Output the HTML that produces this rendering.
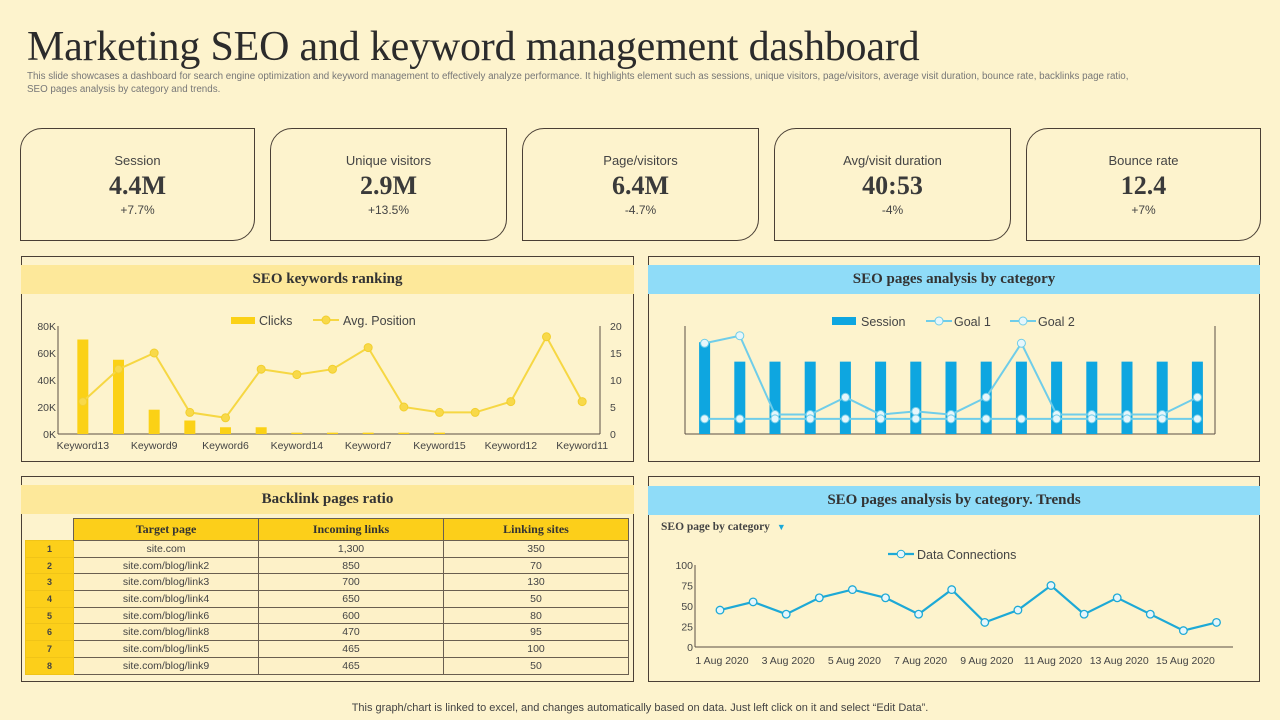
<!DOCTYPE html>
<html><head><meta charset="utf-8">
<style>
*{margin:0;padding:0;box-sizing:border-box}
body{width:1280px;height:720px;background:#fdf3cd;font-family:"Liberation Sans",sans-serif;color:#333;position:relative;overflow:hidden}
.abs{position:absolute}
h1{position:absolute;left:27px;top:23px;font-family:"Liberation Serif",serif;font-weight:normal;font-size:42px;color:#2b2b2b;letter-spacing:-0.2px}
.sub{left:27px;top:70px;font-size:9.8px;color:#777;line-height:13px;width:1240px;white-space:nowrap}
.card{position:absolute;top:128px;height:113px;border:1px solid #4a3f35;border-radius:22px 0 22px 0;text-align:center}
.card .l{margin-top:24px;font-size:13px;color:#444;line-height:16px}
.card .v{font-family:"Liberation Serif",serif;font-weight:bold;font-size:26px;color:#3a3a3a;line-height:34px}
.card .c{font-size:12px;color:#444;line-height:14px}
.panel{position:absolute;border:1px solid #4a3f35}
.hdr{position:absolute;height:29px;font-family:"Liberation Serif",serif;font-weight:bold;font-size:15px;color:#333;text-align:center;line-height:29px}
table{position:absolute;left:25px;top:518px;border-collapse:collapse;font-size:10.5px;color:#444}
td,th{border:1px solid #6a5f50;height:16.7px;text-align:center;padding:0}
th{background:#fccf1a;font-family:"Liberation Serif",serif;font-size:12px;height:22px;color:#333}
td.i{background:#fccf1a;font-size:9px;font-weight:bold;border-color:#f0c418}
td{background:#fdf1c8}
</style></head><body>
<h1>Marketing SEO and keyword management dashboard</h1>
<div class="abs sub">This slide showcases a dashboard for search engine optimization and keyword management to effectively analyze performance. It highlights element such as sessions, unique visitors, page/visitors, average visit duration, bounce rate, backlinks page ratio,<br>SEO pages analysis by category and trends.</div>

<div class="card" style="left:20px;width:235px"><div class="l">Session</div><div class="v">4.4M</div><div class="c">+7.7%</div></div>
<div class="card" style="left:270px;width:237px"><div class="l">Unique visitors</div><div class="v">2.9M</div><div class="c">+13.5%</div></div>
<div class="card" style="left:522px;width:237px"><div class="l">Page/visitors</div><div class="v">6.4M</div><div class="c">-4.7%</div></div>
<div class="card" style="left:774px;width:237px"><div class="l">Avg/visit duration</div><div class="v">40:53</div><div class="c">-4%</div></div>
<div class="card" style="left:1026px;width:235px"><div class="l">Bounce rate</div><div class="v">12.4</div><div class="c">+7%</div></div>

<div class="panel" style="left:21px;top:256px;width:613px;height:206px"></div>
<div class="hdr" style="left:21px;top:265px;width:613px;background:#fde89a">SEO keywords ranking</div>
<div class="panel" style="left:648px;top:256px;width:612px;height:206px"></div>
<div class="hdr" style="left:648px;top:265px;width:612px;background:#8fdcf8">SEO pages analysis by category</div>
<div class="panel" style="left:21px;top:476px;width:613px;height:206px"></div>
<div class="hdr" style="left:21px;top:485px;width:613px;background:#fde89a">Backlink pages ratio</div>
<div class="panel" style="left:648px;top:476px;width:612px;height:206px"></div>
<div class="hdr" style="left:648px;top:486px;width:612px;background:#8fdcf8">SEO pages analysis by category. Trends</div>

<table>
<tr><th style="background:transparent;border:none;width:48px"></th><th style="width:185px">Target page</th><th style="width:185px">Incoming links</th><th style="width:185px">Linking sites</th></tr>
<tr><td class="i">1</td><td>site.com</td><td>1,300</td><td>350</td></tr>
<tr><td class="i">2</td><td>site.com/blog/link2</td><td>850</td><td>70</td></tr>
<tr><td class="i">3</td><td>site.com/blog/link3</td><td>700</td><td>130</td></tr>
<tr><td class="i">4</td><td>site.com/blog/link4</td><td>650</td><td>50</td></tr>
<tr><td class="i">5</td><td>site.com/blog/link6</td><td>600</td><td>80</td></tr>
<tr><td class="i">6</td><td>site.com/blog/link8</td><td>470</td><td>95</td></tr>
<tr><td class="i">7</td><td>site.com/blog/link5</td><td>465</td><td>100</td></tr>
<tr><td class="i">8</td><td>site.com/blog/link9</td><td>465</td><td>50</td></tr>
</table>

<div class="abs" style="left:661px;top:521px;font-family:'Liberation Serif',serif;font-weight:bold;font-size:11.5px;color:#444">SEO page by category <span style="color:#1ba8d8;font-size:9px;margin-left:4px">▼</span></div>

<div class="abs" style="left:0;top:702px;width:1280px;text-align:center;font-size:11px;color:#444">This graph/chart is linked to excel, and changes automatically based on data. Just left click on it and select “Edit Data”.</div>

<svg id="svg" class="abs" style="left:0;top:0" width="1280" height="720"></svg>

<script>
// Chart 1: SEO keywords ranking
const kwCategories=["Keyword13","Keyword1","Keyword9","Keyword2","Keyword6","Keyword3","Keyword14","Keyword4","Keyword7","Keyword5","Keyword15","Keyword8","Keyword12","Keyword10","Keyword11"];
const kwClicks=[70000,55000,18000,10000,5000,5000,1000,1000,1000,1000,1000,0,0,0,0];
const kwAvgPosition=[6,12,15,4,3,12,11,12,16,5,4,4,6,18,6];
const kwLeftTicks=["0K","20K","40K","60K","80K"];
const kwRightTicks=["0","5","10","15","20"];
// Chart 2: SEO pages by category
const catSession=[85,67,67,67,67,67,67,67,67,67,67,67,67,67,67];
const catGoal1=[84,91,18,18,34,18,21,18,34,84,18,18,18,18,34];
const catGoal2=[14,14,14,14,14,14,14,14,14,14,14,14,14,14,14];
// Chart 3: trends
const trendDates=["1 Aug 2020","2 Aug 2020","3 Aug 2020","4 Aug 2020","5 Aug 2020","6 Aug 2020","7 Aug 2020","8 Aug 2020","9 Aug 2020","10 Aug 2020","11 Aug 2020","12 Aug 2020","13 Aug 2020","14 Aug 2020","15 Aug 2020","16 Aug 2020"];
const trendValues=[45,55,40,60,70,60,40,70,30,45,75,40,60,40,20,30];
const trendTicks=[0,25,50,75,100];

const svg=document.getElementById('svg');
const NS='http://www.w3.org/2000/svg';
function mk(tag,attrs,parent){const e=document.createElementNS(NS,tag);for(const k in attrs)e.setAttribute(k,attrs[k]);(parent||svg).appendChild(e);return e;}
function txt(x,y,s,size,fill,anchor,extra){const t=mk('text',Object.assign({x:x,y:y,'font-size':size,fill:fill,'text-anchor':anchor||'middle','font-family':'Liberation Sans, sans-serif'},extra||{}));t.textContent=s;return t;}

// ---- Chart 1
(function(){
const x0=65,x1=600,yb=434,yt=326,n=kwCategories.length,bw=(x1-x0)/n;
const xs=i=>x0+bw*(i+0.5);
const yL=v=>yb-(v/80000)*(yb-yt);
const yR=v=>yb-(v/20)*(yb-yt);
mk('line',{x1:58,y1:yb,x2:600,y2:yb,stroke:'#5a4f45','stroke-width':1});
mk('line',{x1:58,y1:yt,x2:58,y2:yb,stroke:'#5a4f45','stroke-width':1});
mk('line',{x1:600,y1:yt,x2:600,y2:yb,stroke:'#5a4f45','stroke-width':1});
kwLeftTicks.forEach((s,i)=>{const t=txt(56,yb-i*(yb-yt)/4+4,s,10.5,'#444','end');});
kwRightTicks.forEach((s,i)=>{const t=txt(610,yb-i*(yb-yt)/4+4,s,10.5,'#444','start');});
kwClicks.forEach((v,i)=>{if(v<=0)return;const r=mk('rect',{x:xs(i)-5.5,y:yL(v),width:11,height:yb-yL(v),fill:'#fbd116'});
});
mk('polyline',{points:kwAvgPosition.map((v,i)=>xs(i)+','+yR(v)).join(' '),fill:'none',stroke:'#f6d743','stroke-width':2});
kwAvgPosition.forEach((v,i)=>{const c=mk('circle',{cx:xs(i),cy:yR(v),r:4,fill:'#f8d94a',stroke:'#f2cf2e'});
});
kwCategories.forEach((s,i)=>{if(i%2)return;const t=txt(xs(i),449,s,10.5,'#444');});
mk('rect',{x:231,y:317,width:24,height:7,fill:'#fbd116'});
txt(259,325,'Clicks',12.5,'#444','start');
mk('line',{x1:313,y1:320,x2:339,y2:320,stroke:'#f6d743','stroke-width':2});
mk('circle',{cx:326,cy:320,r:4,fill:'#f8d94a',stroke:'#f2cf2e'});
txt(343,325,'Avg. Position',12.5,'#444','start');
})();

// ---- Chart 2
(function(){
const x0=687,x1=1215,yb=434,yt=326,n=catSession.length,bw=(x1-x0)/n;
const xs=i=>x0+bw*(i+0.5);
const y=v=>yb-(v/100)*(yb-yt);
mk('line',{x1:x0-2,y1:yb,x2:x1,y2:yb,stroke:'#5a4f45','stroke-width':1});
mk('line',{x1:x0-2,y1:yt,x2:x0-2,y2:yb,stroke:'#5a4f45','stroke-width':1});
mk('line',{x1:x1,y1:yt,x2:x1,y2:yb,stroke:'#5a4f45','stroke-width':1});
catSession.forEach((v,i)=>{const r=mk('rect',{x:xs(i)-5.5,y:y(v),width:11,height:yb-y(v),fill:'#0ea6e0'});
});
[[catGoal1,'goal1-point'],[catGoal2,'goal2-point']].forEach(([arr,nm])=>{
mk('polyline',{points:arr.map((v,i)=>xs(i)+','+y(v)).join(' '),fill:'none',stroke:'#6fcde9','stroke-width':2});
arr.forEach((v,i)=>{const c=mk('circle',{cx:xs(i),cy:y(v),r:4,fill:'#e6f6fb',stroke:'#6fcde9'});
});});
mk('rect',{x:832,y:317,width:24,height:8,fill:'#0ea6e0'});
txt(861,326,'Session',12.5,'#444','start');
[926,1010].forEach((lx,k)=>{mk('line',{x1:lx,y1:321,x2:lx+26,y2:321,stroke:'#6fcde9','stroke-width':2});
mk('circle',{cx:lx+13,cy:321,r:4,fill:'#e6f6fb',stroke:'#6fcde9'});
txt(lx+28,326,k?'Goal 2':'Goal 1',12.5,'#444','start');});
})();

// ---- Chart 3
(function(){
const x0=695,x1=1233,yb=647,yt=565,n=trendValues.length;
const step=33.1;
const xs=i=>720+step*i;
const y=v=>yb-(v/100)*(yb-yt);
mk('line',{x1:x0,y1:yb,x2:x1,y2:yb,stroke:'#5a4f45','stroke-width':1});
mk('line',{x1:x0,y1:yt,x2:x0,y2:yb,stroke:'#5a4f45','stroke-width':1});
trendTicks.forEach(v=>{const t=txt(693,y(v)+4,String(v),10.5,'#444','end');});
mk('polyline',{points:trendValues.map((v,i)=>xs(i)+','+y(v)).join(' '),fill:'none',stroke:'#1da9d6','stroke-width':2.2});
trendValues.forEach((v,i)=>{const c=mk('circle',{cx:xs(i),cy:y(v),r:3.8,fill:'#e6f6fb',stroke:'#1da9d6','stroke-width':1.3});
});
trendDates.forEach((s,i)=>{if(i%2)return;const t=txt(xs(i)+2,664,s,10.5,'#444');});
mk('line',{x1:888,y1:554,x2:914,y2:554,stroke:'#1da9d6','stroke-width':2.2});
mk('circle',{cx:901,cy:554,r:3.8,fill:'#e6f6fb',stroke:'#1da9d6'});
txt(917,559,'Data Connections',12.5,'#444','start');
})();
</script>
</body></html>
